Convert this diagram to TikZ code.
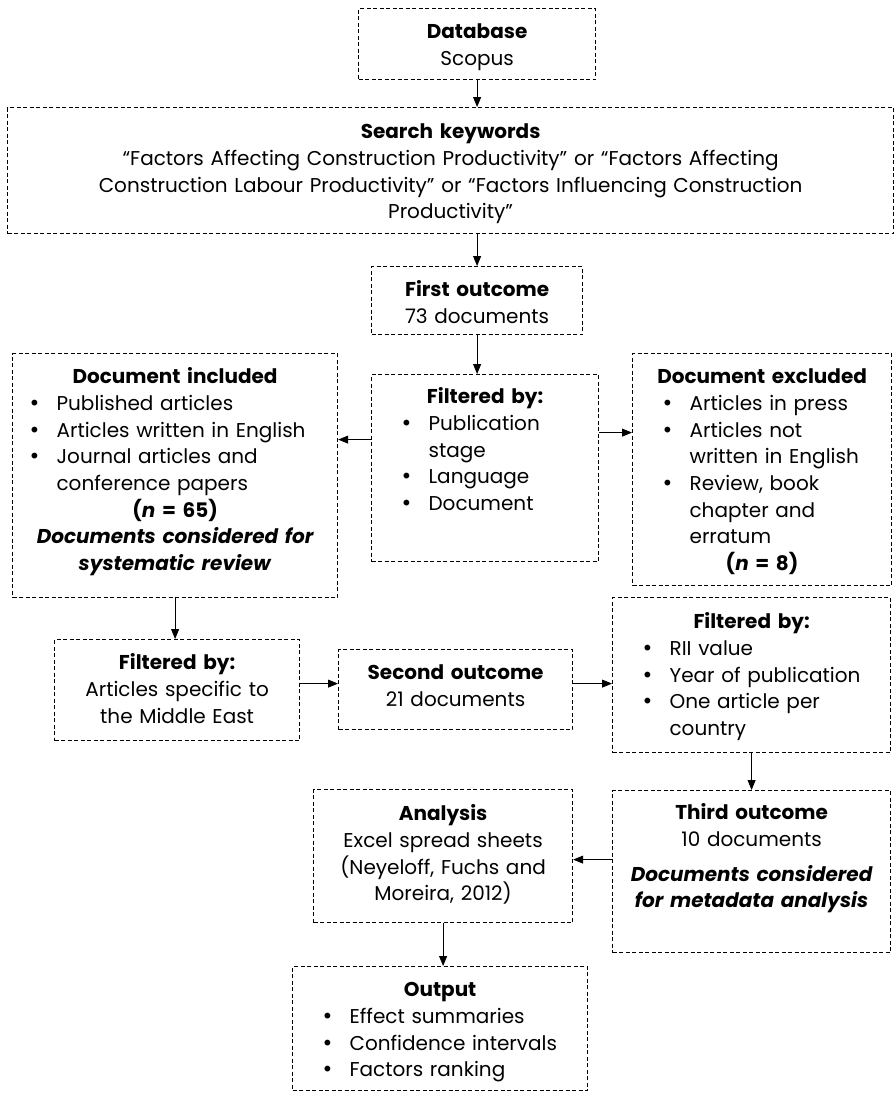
\documentclass[tikz,border=0pt]{standalone}
\usepackage{fontspec}
\setmainfont{Poppins}
\newfontfamily\dotfont{DejaVu Sans}
\usetikzlibrary{arrows.meta}

\newlength{\blead}
\setlength{\blead}{29pt}
\newcommand{\bdot}{{\dotfont •}}
\newcommand{\bitem}[1]{\par{\raggedright\leftskip=\blead\hangindent=28pt\hangafter=1\noindent\makebox[28pt][l]{\bdot}#1\par}}

\begin{document}
\begin{tikzpicture}[x=1pt, y=-1pt,
    box/.style={draw, line width=1.2pt, dash pattern=on 4pt off 2.5pt,
                inner sep=0pt, anchor=north west, align=center,
                font=\fontsize{20}{26.7}\selectfont},
    arr/.style={-{Triangle[length=10pt,width=8pt]}, line width=0.8pt}]

\useasboundingbox (0,0) rectangle (895,1093);

% top of the chain
\node[box, text width=237pt, text height=30pt, text depth=41pt] (db) at (358,8)
    {\textbf{Database}\\ Scopus};
\node[box, text width=886pt, text height=31pt, text depth=95pt] (search) at (7,107)
    {\textbf{Search keywords}\\
     “Factors Affecting Construction Productivity” or “Factors Affecting\\
     Construction Labour Productivity” or “Factors Influencing Construction\\
     Productivity”};
\node[box, text width=211pt, text height=30pt, text depth=38pt] (first) at (371,266)
    {\textbf{First outcome}\\ 73 documents};

% first filter and its two branches
\node[box, text width=227pt, text height=29pt, text depth=158pt] (filt1) at (371,374)
    {\textbf{Filtered by:}
     \bitem{Publication\newline stage}
     \bitem{Language}
     \bitem{Document}};
\node[box, text width=325pt, text height=30pt, text depth=214pt] (incl) at (12,353)
    {\setlength{\blead}{16pt}%
     \textbf{Document included}
     \bitem{Published articles}
     \bitem{Articles written in English}
     \bitem{Journal articles and\newline conference papers}
     \textbf{(\textit{n} = 65)}\\
     \textbf{\textit{Documents considered for\\ systematic review}}};
\node[box, text width=259pt, text height=30pt, text depth=202pt] (excl) at (632,353)
    {\textbf{Document excluded}
     \bitem{Articles in press}
     \bitem{Articles not\newline written in English}
     \bitem{Review, book\newline chapter and\newline erratum}
     \textbf{(\textit{n} = 8)}};

% middle row
\node[box, text width=245pt, text height=30pt, text depth=71pt] (filt2) at (54,639)
    {\textbf{Filtered by:}\\ Articles specific to\\ the Middle East};
\node[box, text width=234pt, text height=30pt, text depth=50pt] (second) at (338,649)
    {\textbf{Second outcome}\\ 21 documents};
\node[box, text width=278pt, text height=31pt, text depth=124pt] (filt3) at (612,597)
    {\textbf{Filtered by:}
     \bitem{RII value}
     \bitem{Year of publication}
     \bitem{One article per\newline country}};

% bottom rows
\node[box, text width=278pt, text height=29pt, text depth=133pt] (third) at (612,790)
    {\textbf{Third outcome}\\ 10 documents\par\vspace{8pt}
     \textbf{\textit{Documents considered\\ for metadata analysis}}};
\node[box, text width=259pt, text height=31pt, text depth=102pt] (analysis) at (313,789)
    {\textbf{Analysis}\\ Excel spread sheets\\ (Neyeloff, Fuchs and\\ Moreira, 2012)};
\node[box, text width=295pt, text height=30pt, text depth=94pt] (output) at (292,966)
    {\textbf{Output}
     \bitem{Effect summaries}
     \bitem{Confidence intervals}
     \bitem{Factors ranking}};

% connectors
\draw[arr] (db.south) -- (db.south |- search.north);
\draw[arr] (search.south -| first.north) -- (first.north);
\draw[arr] (first.south) -- (first.south |- filt1.north);
\draw[arr] ([yshift=28.5pt]filt1.west) -- ([yshift=28.5pt]filt1.west -| incl.east);
\draw[arr] ([yshift=35.5pt]filt1.east) -- ([yshift=35.5pt]filt1.east -| excl.west);
\draw[arr] (incl.south) -- (incl.south |- filt2.north);
\draw[arr] ([yshift=6.5pt]filt2.east) -- ([yshift=6.5pt]filt2.east -| second.west);
\draw[arr] ([yshift=6pt]second.east) -- ([yshift=6pt]second.east -| filt3.west);
\draw[arr] (filt3.south) -- (filt3.south |- third.north);
\draw[arr] ([yshift=12pt]third.west) -- ([yshift=12pt]third.west -| analysis.east);
\draw[arr] (analysis.south) -- (analysis.south |- output.north);

\end{tikzpicture}
\end{document}
